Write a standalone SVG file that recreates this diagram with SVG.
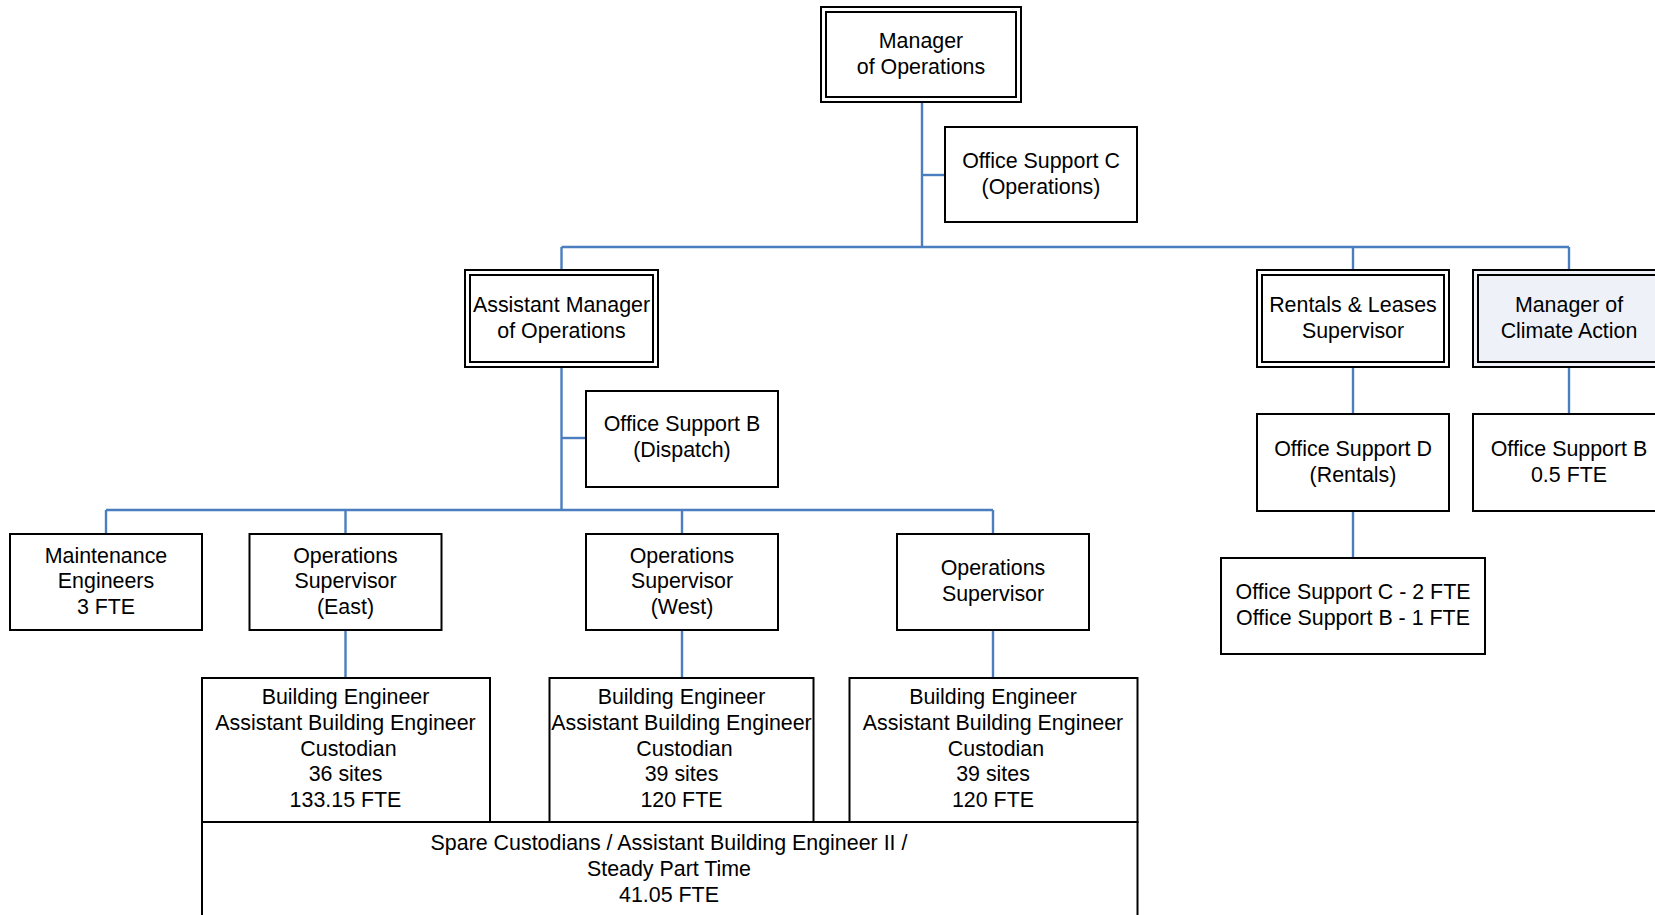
<svg xmlns="http://www.w3.org/2000/svg" width="1655" height="915" viewBox="0 0 1655 915">
  <style>
    .box { fill: #ffffff; stroke: #000000; stroke-width: 2; }
    .shaded { fill: #eef2f8; stroke: #000000; stroke-width: 2; }
    .wire { fill: none; stroke: #4a7ebf; stroke-width: 2.4; }
    text { font-family: "Liberation Sans", Arial, sans-serif; font-size: 21.4px; fill: #000000; text-anchor: middle; }
  </style>
  <rect width="1655" height="915" fill="#ffffff"/>

  <!-- connectors -->
  <g id="connectors">
    <path class="wire" d="M922 102 V247"/>
    <path class="wire" d="M922 175 H945"/>
    <path class="wire" d="M561.5 247 H1569"/>
    <path class="wire" d="M561.5 247 V270"/>
    <path class="wire" d="M1353 247 V270"/>
    <path class="wire" d="M1569 247 V270"/>
    <path class="wire" d="M561.5 367 V510"/>
    <path class="wire" d="M561.5 438 H586"/>
    <path class="wire" d="M106 510 H993"/>
    <path class="wire" d="M106 510 V534"/>
    <path class="wire" d="M345.5 510 V534"/>
    <path class="wire" d="M682 510 V534"/>
    <path class="wire" d="M993 510 V534"/>
    <path class="wire" d="M345.5 630 V678"/>
    <path class="wire" d="M682 630 V678"/>
    <path class="wire" d="M993 630 V678"/>
    <path class="wire" d="M1353 367 V414"/>
    <path class="wire" d="M1569 367 V414"/>
    <path class="wire" d="M1353 511 V558"/>
  </g>

  <!-- top manager -->
  <g id="manager-operations">
    <rect class="box" x="821" y="7" width="200" height="95"/>
    <rect class="box" x="826" y="12" width="190" height="85"/>
    <text x="921" y="47.5">Manager</text>
    <text x="921" y="73.5">of Operations</text>
  </g>

  <g id="office-support-c-ops">
    <rect class="box" x="945" y="127" width="192" height="95"/>
    <text x="1041" y="167.5">Office Support C</text>
    <text x="1041" y="193.5">(Operations)</text>
  </g>

  <g id="assistant-manager">
    <rect class="box" x="465" y="270" width="193" height="97"/>
    <rect class="box" x="470" y="275" width="183" height="87"/>
    <text x="561.5" y="311.5">Assistant Manager</text>
    <text x="561.5" y="337.5">of Operations</text>
  </g>

  <g id="office-support-b-dispatch">
    <rect class="box" x="586" y="391" width="192" height="96"/>
    <text x="682" y="431">Office Support B</text>
    <text x="682" y="457">(Dispatch)</text>
  </g>

  <g id="rentals-supervisor">
    <rect class="box" x="1257" y="270" width="192" height="97"/>
    <rect class="box" x="1262" y="275" width="182" height="87"/>
    <text x="1353" y="311.5">Rentals &amp; Leases</text>
    <text x="1353" y="337.5">Supervisor</text>
  </g>

  <g id="manager-climate">
    <rect class="shaded" x="1473" y="270" width="193" height="97"/>
    <rect class="shaded" x="1478" y="275" width="183" height="87"/>
    <text x="1569" y="311.5">Manager of</text>
    <text x="1569" y="337.5">Climate Action</text>
  </g>

  <g id="office-support-d">
    <rect class="box" x="1257" y="414" width="192" height="97"/>
    <text x="1353" y="455.5">Office Support D</text>
    <text x="1353" y="481.5">(Rentals)</text>
  </g>

  <g id="office-support-b-climate">
    <rect class="box" x="1473" y="414" width="193" height="97"/>
    <text x="1569" y="455.5">Office Support B</text>
    <text x="1569" y="481.5">0.5 FTE</text>
  </g>

  <g id="rentals-staff">
    <rect class="box" x="1221" y="558" width="264" height="96"/>
    <text x="1353" y="599">Office Support C - 2 FTE</text>
    <text x="1353" y="625">Office Support B - 1 FTE</text>
  </g>

  <g id="maintenance-engineers">
    <rect class="box" x="10" y="534" width="192" height="96"/>
    <text x="106" y="562.5">Maintenance</text>
    <text x="106" y="588">Engineers</text>
    <text x="106" y="613.5">3 FTE</text>
  </g>

  <g id="ops-supervisor-east">
    <rect class="box" x="249.5" y="534" width="192" height="96"/>
    <text x="345.5" y="562.5">Operations</text>
    <text x="345.5" y="588">Supervisor</text>
    <text x="345.5" y="613.5">(East)</text>
  </g>

  <g id="ops-supervisor-west">
    <rect class="box" x="586" y="534" width="192" height="96"/>
    <text x="682" y="562.5">Operations</text>
    <text x="682" y="588">Supervisor</text>
    <text x="682" y="613.5">(West)</text>
  </g>

  <g id="ops-supervisor">
    <rect class="box" x="897" y="534" width="192" height="96"/>
    <text x="993" y="575">Operations</text>
    <text x="993" y="601">Supervisor</text>
  </g>

  <g id="spare-custodians">
    <rect class="box" x="202" y="822" width="935.5" height="110"/>
    <text x="669" y="850">Spare Custodians / Assistant Building Engineer II /</text>
    <text x="669" y="876">Steady Part Time</text>
    <text x="669" y="901.5">41.05 FTE</text>
  </g>

  <g id="crew-east">
    <rect class="box" x="202" y="678" width="288" height="144"/>
    <text x="345.5" y="704">Building Engineer</text>
    <text x="345.5" y="730">Assistant Building Engineer</text>
    <text x="348.5" y="755.5">Custodian</text>
    <text x="345.5" y="781">36 sites</text>
    <text x="345.5" y="806.5">133.15 FTE</text>
  </g>

  <g id="crew-west">
    <rect class="box" x="549.5" y="678" width="264" height="144"/>
    <text x="681.5" y="704">Building Engineer</text>
    <text x="681.5" y="730">Assistant Building Engineer</text>
    <text x="684.5" y="755.5">Custodian</text>
    <text x="681.5" y="781">39 sites</text>
    <text x="681.5" y="806.5">120 FTE</text>
  </g>

  <g id="crew-third">
    <rect class="box" x="849.5" y="678" width="288" height="144"/>
    <text x="993" y="704">Building Engineer</text>
    <text x="993" y="730">Assistant Building Engineer</text>
    <text x="996" y="755.5">Custodian</text>
    <text x="993" y="781">39 sites</text>
    <text x="993" y="806.5">120 FTE</text>
  </g>
</svg>
